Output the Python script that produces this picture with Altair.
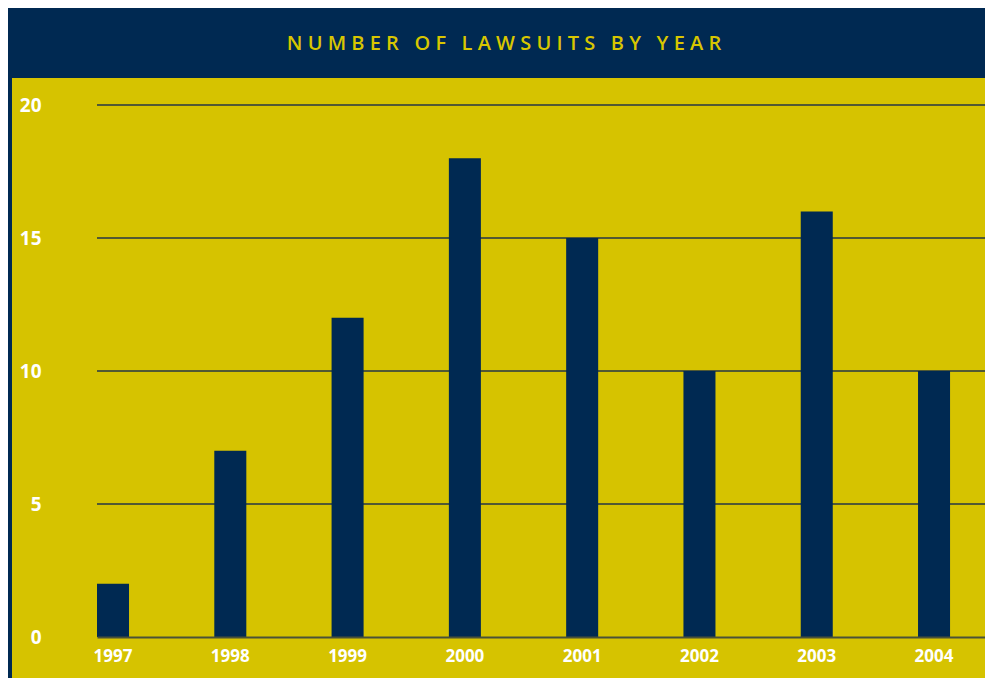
import altair as alt
import pandas as pd

years = ["1997", "1998", "1999", "2000", "2001", "2002", "2003", "2004"]
lawsuits = [2, 7, 12, 18, 15, 10, 16, 10]
y_ticks = [0, 5, 10, 15, 20]
grid_values = [5, 10, 15, 20]
title_words = ["NUMBER", "OF", "LAWSUITS", "BY", "YEAR"]

NAVY = "#002952"
YELLOW = "#d6c300"
GOLD = "#d8c600"
FONT = "Open Sans"

title_text = " \u00a0 ".join(" ".join(list(w)) for w in title_words)

df = pd.DataFrame({"year": years, "count": lawsuits})
grid_df = pd.DataFrame({"v": grid_values})
bg_df = pd.DataFrame({"a": [0]})

W, H = 888, 532

y_scale = alt.Scale(domain=[0, 20], nice=False)
y_axis = alt.Axis(values=y_ticks, labelFontSize=19, labelFont=FONT,
                  labelFontWeight="bold", labelColor="white",
                  labelPadding=56, ticks=False, domain=False,
                  grid=False, zindex=1, title=None)

bg = alt.Chart(bg_df).mark_rect(color=YELLOW).encode(
    x=alt.value(-85), x2=alt.value(W + 20),
    y=alt.value(-27), y2=alt.value(H + 80),
)

grid = alt.Chart(grid_df).mark_rule(color="#243646", strokeWidth=1.5).encode(
    y=alt.Y("v:Q", title=None, scale=y_scale, axis=y_axis)
)

bars = alt.Chart(df).mark_bar(color=NAVY).encode(
    x=alt.X("year:O", sort=years, title=None,
            scale=alt.Scale(paddingInner=0.727, paddingOuter=0.149, align=0),
            axis=alt.Axis(labelAngle=0, labelFontSize=17, labelFont=FONT,
                          labelFontWeight="bold", labelColor="white",
                          labelPadding=11, ticks=False, grid=False,
                          domainColor="#4a5238", domainWidth=2, zindex=1)),
    y=alt.Y("count:Q", title=None, scale=y_scale, axis=y_axis),
)

chart = alt.layer(bg, grid, bars).properties(
    width=W, height=H,
    padding={"left": 89, "top": 97, "right": 0, "bottom": 41},
    autosize=alt.AutoSizeParams(type="none"),
    background=NAVY,
    title=alt.TitleParams(text=title_text, color=GOLD, font=FONT,
                          fontSize=20, fontWeight=600, anchor="middle",
                          frame="group", dx=-37, offset=24),
).configure_view(stroke=None)

chart.save("out.html", embed_options={"renderer": "svg", "actions": False})
